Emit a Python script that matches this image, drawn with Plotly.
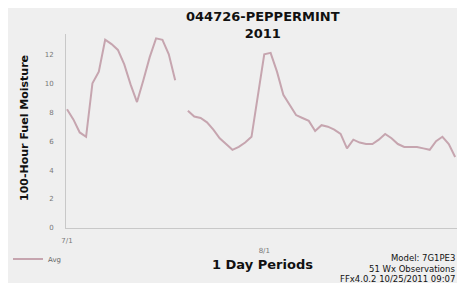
import pandas as pd
import plotly.graph_objects as go

# Daily 100-hour fuel moisture, Jul 1 - Aug 31 2011 (None = missing day)
dates = pd.date_range("2011-07-01", "2011-08-31", freq="D")
avg_moisture = [
    8.2, 7.5, 6.6, 6.3, 10.0, 10.8, 13.0, 12.7, 12.3, 11.3,
    9.9, 8.7, 10.2, 11.8, 13.1, 13.0, 12.0, 10.2, None, 8.1,
    7.7, 7.6, 7.3, 6.8, 6.2, 5.8, 5.4, 5.6, 5.9, 6.3,
    9.0, 12.0, 12.1, 10.8, 9.2, 8.5, 7.8, 7.6, 7.4, 6.7,
    7.1, 7.0, 6.8, 6.5, 5.5, 6.1, 5.9, 5.8, 5.8, 6.1,
    6.5, 6.2, 5.8, 5.6, 5.6, 5.6, 5.5, 5.4, 6.0, 6.3,
    5.8, 4.9,
]
y_ticks = [0, 2, 4, 6, 8, 10, 12]
x_tick_vals = ["2011-07-01", "2011-08-01"]
x_tick_text = ["7/1", "<br>8/1"]

BG = "#efefef"
OFF = 8  # page body margin
FW, FH = 465 - 2 * OFF, 283 - OFF
L, T, W, H = 66 - OFF, 34 - OFF, 465 - 2 * OFF - (66 - OFF), 194

def px(x):
    return (x - OFF - L) / W

def py(y):
    return (T + H - (y - OFF)) / H

fig = go.Figure()
fig.add_trace(go.Scatter(
    x=dates, y=avg_moisture, mode="lines", name="Avg",
    line=dict(color="#c6a5af", width=2), connectgaps=False,
))

fig.update_layout(
    width=FW, height=FH,
    margin=dict(l=L, r=FW - L - W, t=T, b=FH - T - H),
    paper_bgcolor=BG, plot_bgcolor=BG,
    font=dict(family="DejaVu Sans", color="#333"),
    showlegend=True,
    legend=dict(x=px(8), y=py(259), xanchor="left", yanchor="middle",
                bgcolor="rgba(0,0,0,0)", font=dict(size=7, color="#666"),
                itemwidth=30, tracegroupgap=0),
    xaxis=dict(
        range=["2011-06-30 20:15", "2011-08-31 07:00"],
        tickvals=x_tick_vals, ticktext=x_tick_text,
        tickfont=dict(size=7, color="#777"), ticklabelstandoff=6,
        showgrid=False, zeroline=False, showline=True,
        linecolor="#c8c8c8", linewidth=1,
    ),
    yaxis=dict(
        range=[0, 13.4], tickvals=y_ticks,
        tickfont=dict(size=7, color="#777"), ticklabelstandoff=10,
        showgrid=False, zeroline=False, showline=True,
        linecolor="#c8c8c8", linewidth=1,
    ),
)

anns = [
    dict(text="<b>044726-PEPPERMINT<br>2011</b>", x=px(263), y=py(25.5), size=13, xanchor="center"),
    dict(text="<b>1 Day Periods</b>", x=px(262), y=py(264), size=13, xanchor="center"),
    dict(text="Model: 7G1PE3", x=px(456), y=py(258.5), size=8.5, xanchor="right"),
    dict(text="51 Wx Observations", x=px(456), y=py(268.5), size=8.5, xanchor="right"),
    dict(text="FFx4.0.2 10/25/2011 09:07", x=px(456), y=py(278.5), size=8.5, xanchor="right"),
]
for a in anns:
    fig.add_annotation(text=a["text"], x=a["x"], y=a["y"], xref="paper", yref="paper",
                       xanchor=a["xanchor"], yanchor="middle", showarrow=False,
                       borderpad=0,
                       font=dict(size=a["size"], color="#111", family="DejaVu Sans"))

fig.add_annotation(text="<b>100-Hour Fuel Moisture</b>", x=px(24), y=py(128),
                   xref="paper", yref="paper", textangle=-90, showarrow=False,
                   xanchor="center", yanchor="middle",
                   font=dict(size=11, color="#111", family="DejaVu Sans"))

fig.write_html("out.html")
